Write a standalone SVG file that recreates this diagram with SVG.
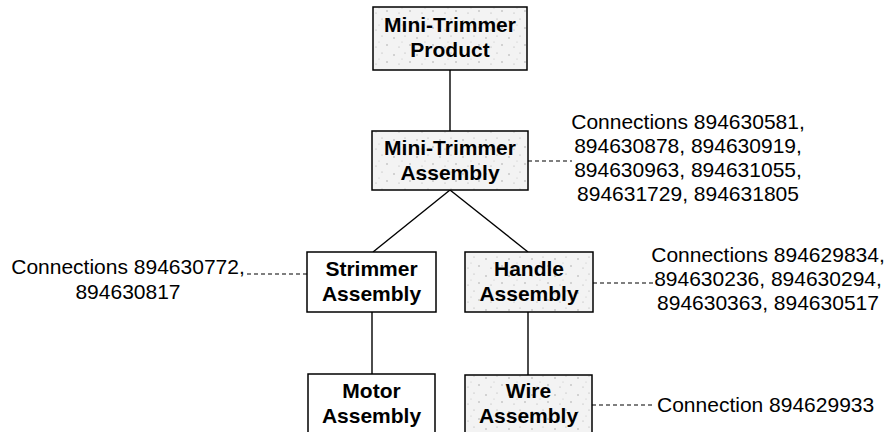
<svg xmlns="http://www.w3.org/2000/svg" width="887" height="432" viewBox="0 0 887 432">
<style>
.box{stroke:#000;stroke-width:1.5}
.plain{fill:#fff}
.tex{fill:url(#speck)}
.lbl{font-family:"Liberation Sans",Arial,sans-serif;font-weight:bold;font-size:21px;fill:#000;text-anchor:middle}
.note{font-family:"Liberation Sans",Arial,sans-serif;font-size:21px;fill:#000;text-anchor:middle}
.solid{stroke:#000;stroke-width:1.4;fill:none}
.dash{stroke:#000;stroke-width:1.2;fill:none;stroke-dasharray:4 3}
</style>
<defs>
<pattern id="speck" width="23" height="17" patternUnits="userSpaceOnUse">
<rect width="23" height="17" fill="#f3f3f3"/>
<circle cx="3" cy="4" r="0.7" fill="#999"/>
<circle cx="14" cy="2" r="0.6" fill="#aaa"/>
<circle cx="19" cy="11" r="0.7" fill="#999"/>
<circle cx="8" cy="13" r="0.6" fill="#aaa"/>
<circle cx="11" cy="8" r="0.5" fill="#bbb"/>
</pattern>
</defs>
<g id="connectors">
<line class="solid" x1="450" y1="70" x2="450" y2="131"/>
<line class="solid" x1="450" y1="190" x2="373" y2="252"/>
<line class="solid" x1="450" y1="190" x2="528" y2="252"/>
<line class="solid" x1="372" y1="312" x2="372" y2="374"/>
<line class="solid" x1="528" y1="312" x2="528" y2="375"/>
<line class="dash" x1="528" y1="161" x2="572" y2="161"/>
<line class="dash" x1="307" y1="274" x2="245" y2="274"/>
<line class="dash" x1="593" y1="283" x2="655" y2="283"/>
<line class="dash" x1="592" y1="405" x2="652" y2="405"/>
</g>
<g id="product">
<rect class="box tex" x="373" y="7" width="154" height="63"/>
<text class="lbl" x="450" y="32">Mini-Trimmer</text>
<text class="lbl" x="450" y="57">Product</text>
</g>
<g id="mt-assembly">
<rect class="box tex" x="372" y="131" width="156" height="59"/>
<text class="lbl" x="450" y="155">Mini-Trimmer</text>
<text class="lbl" x="450" y="180">Assembly</text>
</g>
<g id="strimmer">
<rect class="box plain" x="307" y="252" width="129" height="60"/>
<text class="lbl" x="371.5" y="276">Strimmer</text>
<text class="lbl" x="371.5" y="301">Assembly</text>
</g>
<g id="handle">
<rect class="box tex" x="465" y="252" width="128" height="60"/>
<text class="lbl" x="529" y="276">Handle</text>
<text class="lbl" x="529" y="301">Assembly</text>
</g>
<g id="motor">
<rect class="box plain" x="308" y="374" width="127" height="70"/>
<text class="lbl" x="371.5" y="398">Motor</text>
<text class="lbl" x="371.5" y="423">Assembly</text>
</g>
<g id="wire">
<rect class="box tex" x="465" y="375" width="127" height="70"/>
<text class="lbl" x="528.5" y="398">Wire</text>
<text class="lbl" x="528.5" y="423">Assembly</text>
</g>
<g id="note-mt">
<text class="note" x="688" y="129">Connections 894630581,</text>
<text class="note" x="688" y="153">894630878, 894630919,</text>
<text class="note" x="688" y="177">894630963, 894631055,</text>
<text class="note" x="688" y="201">894631729, 894631805</text>
</g>
<g id="note-strimmer">
<text class="note" x="128" y="274">Connections 894630772,</text>
<text class="note" x="128" y="299">894630817</text>
</g>
<g id="note-handle">
<text class="note" x="768" y="262">Connections 894629834,</text>
<text class="note" x="768" y="286">894630236, 894630294,</text>
<text class="note" x="768" y="310">894630363, 894630517</text>
</g>
<g id="note-wire">
<text class="note" x="657" y="412" style="text-anchor:start">Connection 894629933</text>
</g>
</svg>
